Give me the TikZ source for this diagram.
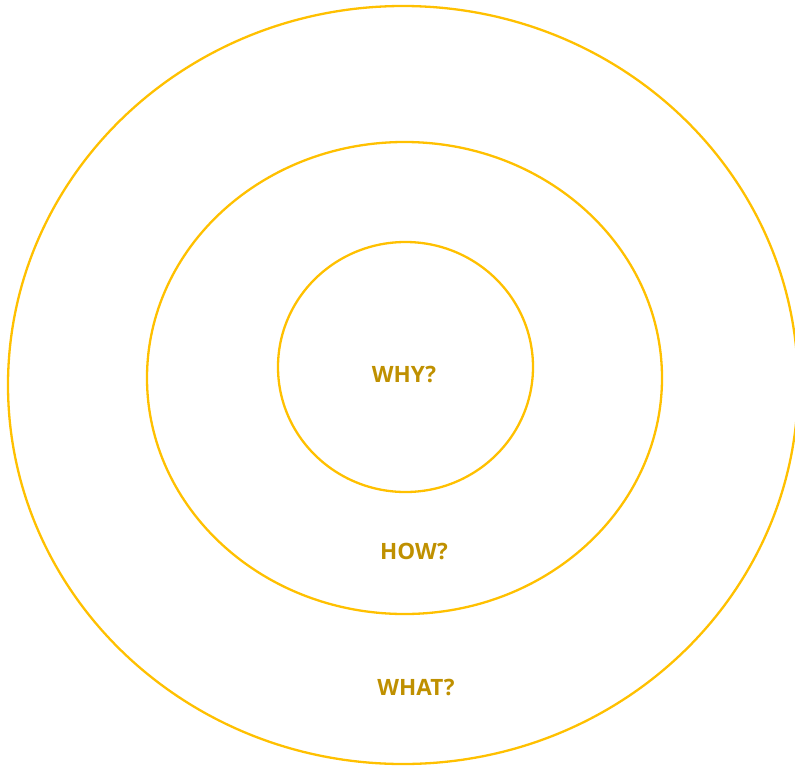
\documentclass[tikz,border=0pt]{standalone}
\usepackage{fontspec}
\setmainfont{Open Sans}
\usepackage{xcolor}
\usetikzlibrary{positioning}
\definecolor{ringgold}{HTML}{FFC000}
\definecolor{labelgold}{HTML}{BF9000}

\begin{document}
\begin{tikzpicture}[
        x=1pt, y=-1pt,
        ring/.style={draw=ringgold, line width=2.3pt},
        label/.style={font=\fontsize{22.5}{26}\selectfont\bfseries, text=labelgold, inner sep=0pt, anchor=center}
    ]
        \useasboundingbox (0,0) rectangle (795,766);
        \clip (0,0) rectangle (795,766);

        % Rings
        \draw[ring] (403,385) ellipse [x radius=395, y radius=379];
        \draw[ring] (404.5,378) ellipse [x radius=257.5, y radius=236];
        \draw[ring] (405.5,367) ellipse [x radius=127.5, y radius=125];

        % Labels
        \node[label] (why) at (404,374) {WHY?};
        \node[label] (how) at (414,551) {HOW?};
        \node[label] (what) at (416,687) {WHAT?};

    \end{tikzpicture}
\end{document}
